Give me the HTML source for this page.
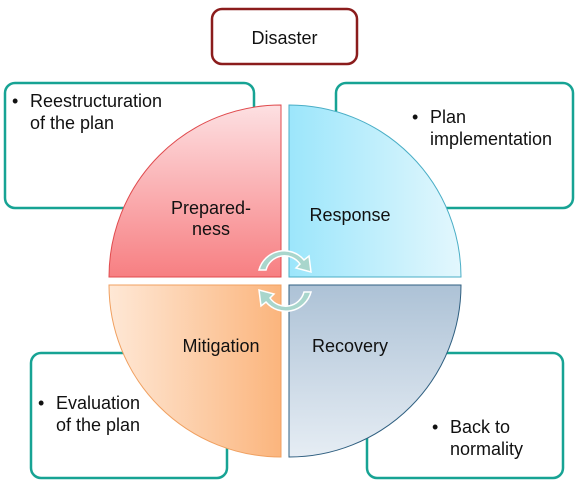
<!DOCTYPE html>
<html><head><style>
html,body{margin:0;padding:0;background:#fff;}
svg{display:block;}
text{font-family:"Liberation Sans",Arial,sans-serif;font-size:18px;fill:#111;}
</style></head><body>
<svg width="576" height="494" viewBox="0 0 576 494">
<defs>
<linearGradient id="tl" x1="0" y1="0" x2="0" y2="1"><stop offset="0" stop-color="#fde0e2"/><stop offset="1" stop-color="#f77f82"/></linearGradient>
<linearGradient id="tr" x1="0" y1="0" x2="1" y2="0"><stop offset="0" stop-color="#9ce6fb"/><stop offset="1" stop-color="#e3f7fd"/></linearGradient>
<linearGradient id="bl" x1="0" y1="0" x2="1" y2="0"><stop offset="0" stop-color="#fee8d6"/><stop offset="1" stop-color="#fbb57d"/></linearGradient>
<linearGradient id="br" x1="0" y1="0" x2="0" y2="1"><stop offset="0" stop-color="#adc2d6"/><stop offset="1" stop-color="#e6edf4"/></linearGradient>
</defs>
<rect x="212" y="9" width="145" height="55" rx="10" fill="#fff" stroke="#8b1c1c" stroke-width="2.5"/>
<text x="284.5" y="44" text-anchor="middle">Disaster</text>
<rect x="5" y="83" width="249" height="125" rx="10" fill="#fff" stroke="#17a394" stroke-width="2.5"/>
<rect x="336" y="83" width="237" height="125" rx="10" fill="#fff" stroke="#17a394" stroke-width="2.5"/>
<rect x="31" y="353" width="196" height="125" rx="10" fill="#fff" stroke="#17a394" stroke-width="2.5"/>
<rect x="367" y="353" width="196" height="125" rx="10" fill="#fff" stroke="#17a394" stroke-width="2.5"/>
<text x="12" y="107">•</text><text x="30" y="107">Reestructuration</text><text x="30" y="129">of the plan</text>
<text x="412" y="123">•</text><text x="430" y="123">Plan</text><text x="430" y="145">implementation</text>
<text x="38" y="409">•</text><text x="56" y="409">Evaluation</text><text x="56" y="431">of the plan</text>
<text x="432" y="433">•</text><text x="450" y="433">Back to</text><text x="450" y="455">normality</text>
<path d="M281 277 L109 277 A172 172 0 0 1 281 105 Z" fill="url(#tl)" stroke="#e04b4e" stroke-width="1"/>
<path d="M289 277 L289 105 A172 172 0 0 1 461 277 Z" fill="url(#tr)" stroke="#4aaec6" stroke-width="1"/>
<path d="M281 285 L281 457 A172 172 0 0 1 109 285 Z" fill="url(#bl)" stroke="#f0a060" stroke-width="1"/>
<path d="M289 285 L461 285 A172 172 0 0 1 289 457 Z" fill="url(#br)" stroke="#2f5f80" stroke-width="1"/>
<text x="211" y="214" text-anchor="middle">Prepared-</text><text x="211" y="235" text-anchor="middle">ness</text>
<text x="350" y="221" text-anchor="middle">Response</text>
<text x="221" y="352" text-anchor="middle">Mitigation</text>
<text x="350" y="352" text-anchor="middle">Recovery</text>
<g fill="#a9d6cc" stroke="#fff" stroke-width="1.5">
<path d="M259 270 A26 26 0 0 1 304 260 L309 256 L311 272 L296 268 L300 264 A19 19 0 0 0 266 270 Z"/>
<path d="M311 292 A26 26 0 0 1 266 302 L261 306 L259 290 L274 294 L270 298 A19 19 0 0 0 304 292 Z"/>
</g>
</svg>
</body></html>
